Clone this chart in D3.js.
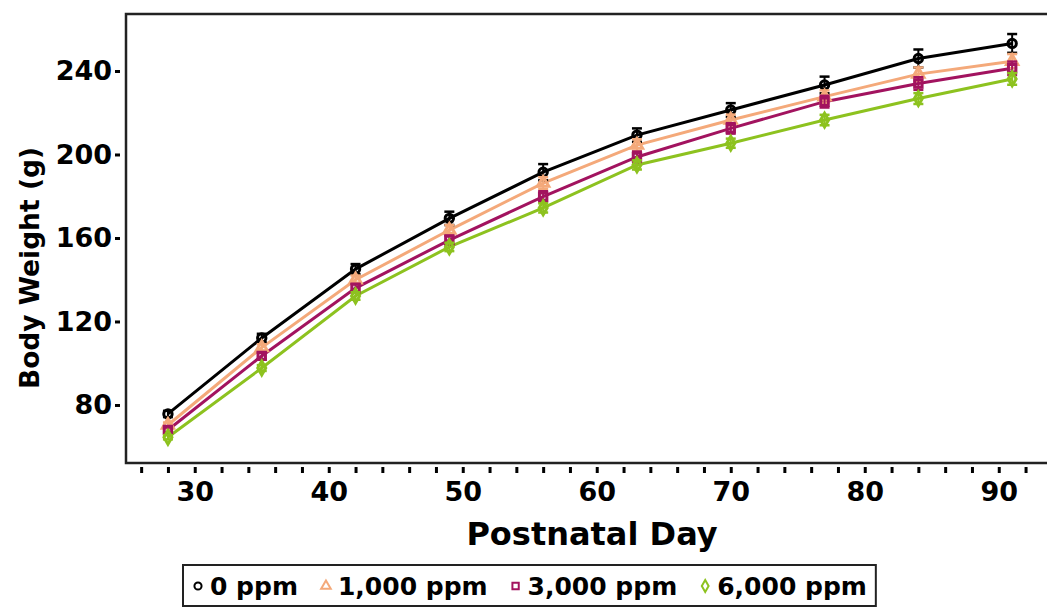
<!DOCTYPE html>
<html>
<head>
<meta charset="utf-8">
<script src="https://cdn.jsdelivr.net/npm/d3@7"></script>
<style>
  body { margin: 0; background: #fff; }
  text { font-family: "DejaVu Sans", sans-serif; font-weight: bold; }
</style>
</head>
<body>
<svg id="chart" width="1047" height="609"></svg>
<script>
// data
const days = [28, 35, 42, 49, 56, 63, 70, 77, 84, 91];
const groups = ['0 ppm', '1,000 ppm', '3,000 ppm', '6,000 ppm'];
const w0 = [75.7, 112.1, 145.1, 169.4, 191.5, 209.3, 221.3, 233.3, 246.0, 253.2];
const w1000 = [70.4, 107.5, 140.0, 163.8, 186.3, 204.5, 216.5, 227.7, 238.5, 244.7];
const w3000 = [68.0, 103.5, 136.0, 159.0, 179.8, 198.8, 212.5, 225.3, 234.0, 241.3];
const w6000 = [64.5, 97.7, 132.2, 155.7, 174.4, 195.0, 205.4, 216.5, 226.8, 236.2];
const e0 = [1.5, 2.0, 2.4, 3.2, 3.9, 3.2, 3.3, 4.0, 4.3, 4.5];
const e1000 = [1.2, 1.6, 2.0, 2.4, 2.8, 2.8, 2.6, 3.0, 3.2, 3.4];
const e3000 = [1.2, 1.5, 2.0, 2.2, 2.6, 2.6, 2.5, 2.8, 3.0, 3.2];
const e6000 = [1.0, 1.4, 1.8, 2.0, 2.2, 2.2, 2.2, 2.5, 2.6, 2.8];
const yTicks = [80, 120, 160, 200, 240];
const xTicks = d3.range(26, 94, 2);

const colors = ['#000000', '#f4a97a', '#a2135f', '#8dc21f'];
const shapes = [d3.symbolCircle, d3.symbolTriangle, d3.symbolSquare, d3.symbolDiamond];
const series = [w0, w1000, w3000, w6000].map((vals, k) => ({
	name: groups[k],
	color: colors[k],
	shape: shapes[k],
	points: vals.map((v, i) => ({ day: days[i], w: v, err: [e0, e1000, e3000, e6000][k][i] }))
}));

//plot area
const plotLeft = 126, plotTop = 14, plotRight = 1047, plotBottom = 463;
const x = d3.scaleLinear().domain([24.87, 93.6]).range([plotLeft, plotRight]);
const y = d3.scaleLinear().domain([52.2, 267.3]).range([plotBottom, plotTop]);

const svg = d3.select('#chart');

//x ticks (detached from axis line)
const xAxis = d3.axisBottom(x)
	.tickValues(xTicks)
	.tickSize(6)
	.tickSizeOuter(0)
	.tickPadding(9)
	.tickFormat((d) => (d % 10 === 0 ? d : ''));
const gx = svg.append('g')
	.attr('transform', 'translate(0,' + (plotBottom + 4) + ')')
	.call(xAxis);
gx.select('.domain').remove();
gx.selectAll('.tick line').attr('stroke', '#000').attr('stroke-width', 3);
gx.selectAll('.tick text').attr('fill', '#000').style('font-size', '27px')
	.style('font-family', '"DejaVu Sans", sans-serif').style('font-weight', 'bold');

//y ticks
const yAxis = d3.axisLeft(y)
	.tickValues(yTicks)
	.tickSize(5)
	.tickSizeOuter(0)
	.tickPadding(3);
const gy = svg.append('g')
	.attr('transform', 'translate(' + (plotLeft - 6) + ',0)')
	.call(yAxis);
gy.select('.domain').remove();
gy.selectAll('.tick line').attr('stroke', '#000').attr('stroke-width', 3);
gy.selectAll('.tick text').attr('fill', '#000').style('font-size', '27px')
	.style('font-family', '"DejaVu Sans", sans-serif').style('font-weight', 'bold');

//frame: left, top, bottom (right side cut off)
svg.append('path')
	.attr('d', 'M' + plotRight + ',' + plotTop + 'H' + plotLeft + 'V' + plotBottom + 'H' + plotRight)
	.attr('fill', 'none')
	.attr('stroke', '#222')
	.attr('stroke-width', 2.5);

//lines
const line = d3.line().x((d) => x(d.day)).y((d) => y(d.w));
svg.append('g').selectAll('path')
	.data(series)
	.join('path')
	.attr('d', (s) => line(s.points))
	.attr('fill', 'none')
	.attr('stroke', (s) => s.color)
	.attr('stroke-width', 3);

//error bars and markers
series.forEach((s) => {
	const g = svg.append('g');
	const bars = g.selectAll('g.err').data(s.points).join('g').attr('class', 'err');
	bars.append('line')
		.attr('x1', (d) => x(d.day)).attr('x2', (d) => x(d.day))
		.attr('y1', (d) => y(d.w - d.err)).attr('y2', (d) => y(d.w + d.err))
		.attr('stroke', s.color).attr('stroke-width', 2);
	[-1, 1].forEach((sgn) => {
		bars.append('line')
			.attr('x1', (d) => x(d.day) - 5).attr('x2', (d) => x(d.day) + 5)
			.attr('y1', (d) => y(d.w + sgn * d.err)).attr('y2', (d) => y(d.w + sgn * d.err))
			.attr('stroke', s.color).attr('stroke-width', 2.5);
	});
	g.selectAll('path.mark').data(s.points).join('path')
		.attr('class', 'mark')
		.attr('transform', (d) => 'translate(' + x(d.day) + ',' + y(d.w) + ')')
		.attr('d', d3.symbol().type(s.shape).size(55))
		.attr('fill', 'none')
		.attr('stroke', s.color)
		.attr('stroke-width', 3);
});

//axis titles
svg.append('text')
	.attr('x', 592).attr('y', 545)
	.attr('text-anchor', 'middle')
	.style('font-size', '32px')
	.text('Postnatal Day');
svg.append('text')
	.attr('transform', 'translate(39,268) rotate(-90)')
	.attr('text-anchor', 'middle')
	.style('font-size', '26.5px')
	.text('Body Weight (g)');

//legend
const legend = svg.append('g');
const legY = 586;
let cx = 198;
series.forEach((s) => {
	const it = legend.append('g');
	it.append('path')
		.attr('transform', 'translate(' + cx + ',' + legY + ')')
		.attr('d', d3.symbol().type(s.shape).size(40))
		.attr('fill', 'none')
		.attr('stroke', s.color)
		.attr('stroke-width', 2);
	const t = it.append('text')
		.attr('x', cx + 12).attr('y', legY + 9)
		.style('font-size', '25px')
		.text(s.name);
	cx += 12 + t.node().getComputedTextLength() + 28;
});
legend.insert('rect', ':first-child')
	.attr('x', 183).attr('y', 565)
	.attr('width', cx - 28 + 9 - 183).attr('height', 41)
	.attr('fill', '#fff')
	.attr('stroke', '#222')
	.attr('stroke-width', 2);
</script>
</body>
</html>
